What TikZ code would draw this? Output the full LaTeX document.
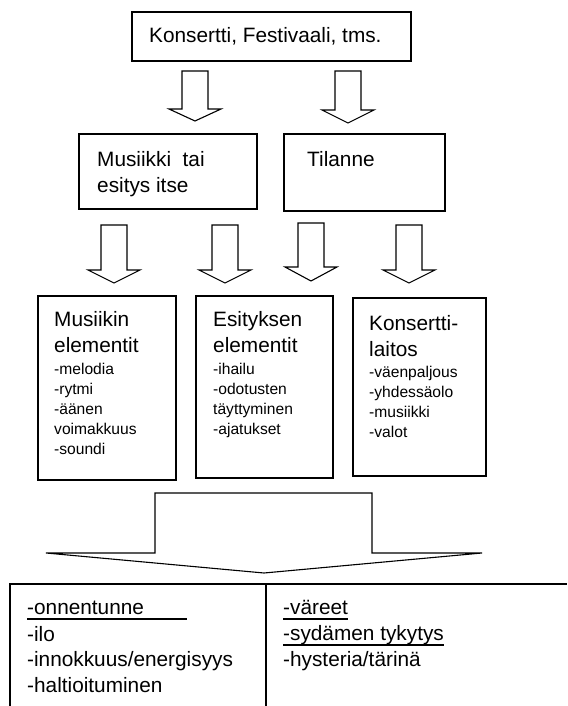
\documentclass[tikz,border=0pt]{standalone}
\usepackage{fontspec}
\setmainfont{Liberation Sans}
\begin{document}
\begin{tikzpicture}[x=1pt,y=-1pt,
        txt/.style={inner sep=0pt,font=\fontsize{20.8}{26}\selectfont,align=left},
        lst/.style={inner sep=0pt,font=\fontsize{15.6}{20.2}\selectfont,align=left},
        box/.style={line width=1.4pt},
        blk/.style={line width=1.1pt},
        uline/.style={line width=1.4pt}]
    \useasboundingbox (0,0) rectangle (567,706);

    \draw[box] (132,12) rectangle (411,61);
    \node[txt,anchor=base west] (konsertti) at (149,43) {Konsertti, Festivaali, tms.};

    \foreach \cx/\ya/\yb/\yc in {195/71/109/121, 348/71/110/123,
                                 114/225/270/283, 225/225/270/283,
                                 311/223/267/281, 409/225/270/283}
        \draw[blk] (\cx-13,\ya) -- (\cx+13,\ya) -- (\cx+13,\yb) -- (\cx+26,\yb)
            -- (\cx,\yc) -- (\cx-26,\yb) -- (\cx-13,\yb) -- cycle;

    \draw[box] (79,134) rectangle (257,209);
    \draw[box] (284,134) rectangle (445,211);
    \node[txt,anchor=north west] (musiikki) at (97,150.8) {Musiikki\ \ tai\\esitys itse};
    \node[txt,anchor=base west] (tilanne) at (307,166) {Tilanne};

    \draw[box] (38,296) rectangle (176,480);
    \draw[box] (196,296) rectangle (333,478);
    \draw[box] (353,298) rectangle (486,476);
    \node[txt,anchor=north west] (musel) at (54,310.8) {Musiikin\\elementit};
    \node[lst,anchor=north west] (muslist) at (54,362.6) {-melodia\\-rytmi\\-äänen\\voimakkuus\\-soundi};
    \node[txt,anchor=north west] (esel) at (213,310.8) {Esityksen\\elementit};
    \node[lst,anchor=north west] (eslist) at (213,362.6) {-ihailu\\-odotusten\\täyttyminen\\-ajatukset};
    \node[txt,anchor=north west] (laitos) at (369,315) {Konsertti-\\laitos};
    \node[lst,anchor=north west] (laitlist) at (369,365.6) {-väenpaljous\\-yhdessäolo\\-musiikki\\-valot};

    \draw[blk] (155,493) -- (372,493) -- (372,553) -- (482,553) -- (264,573)
        -- (46,553) -- (155,553) -- cycle;

    \draw[box] (10,706) -- (10,584) -- (567,584);
    \draw[box] (266,584) -- (266,706);
    \node[txt,anchor=base west] (onnen) at (27,614) {-onnentunne};
    \node[txt,anchor=base west] (ilo) at (27,641) {-ilo};
    \node[txt,anchor=base west] (innok) at (27,666) {-innokkuus/energisyys};
    \node[txt,anchor=base west] (halt) at (27,692) {-haltioituminen};
    \node[txt,anchor=base west] (vareet) at (283,614) {-väreet};
    \node[txt,anchor=base west] (sydan) at (283,640) {-sydämen tykytys};
    \node[txt,anchor=base west] (hyst) at (283,666) {-hysteria/tärinä};
    \draw[uline] ([yshift=-5pt]onnen.base west) -- ([yshift=-5pt,xshift=43pt]onnen.base east);
    \draw[uline] ([yshift=-5pt]vareet.base west) -- ([yshift=-5pt]vareet.base east);
    \draw[uline] ([yshift=-5pt]sydan.base west) -- ([yshift=-5pt]sydan.base east);
\end{tikzpicture}
\end{document}
